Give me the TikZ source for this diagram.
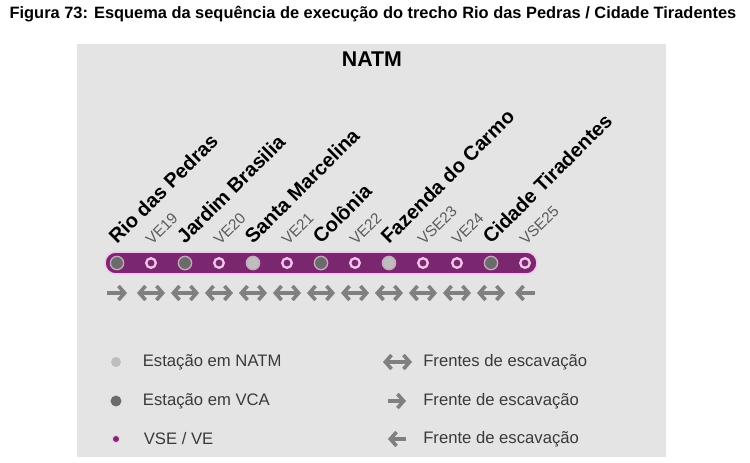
\documentclass[tikz,border=0pt]{standalone}
\usepackage{fontspec}
\setmainfont{Liberation Sans}
\usetikzlibrary{arrows.meta,
	positioning}
\definecolor{panelgray}{HTML}{E4E4E4}
\definecolor{linepurple}{HTML}{7A276F}
\definecolor{ringpink}{HTML}{F4C8EE}
\definecolor{stationrim}{HTML}{C4A6C0}
\definecolor{vcagray}{HTML}{6B6B6B}
\definecolor{natmgray}{HTML}{BEBEBE}
\definecolor{arrowgray}{HTML}{808080}
\definecolor{ventgray}{HTML}{5C5C5C}
\definecolor{legendgray}{HTML}{3A3A3A}
\tikzset{
	station/.style={circle, inner sep=0pt, minimum size=10pt, fill=#1, draw=stationrim, line width=1pt},
	vent/.style={circle, inner sep=0pt, minimum size=7.2pt, fill=linepurple, draw=ringpink, line width=1.7pt},
	stationname/.style={rotate=45, anchor=base west, inner sep=0pt, font=\bfseries\fontsize{15}{15}\selectfont},
	ventname/.style={rotate=45, anchor=base west, inner sep=0pt, text=ventgray, font=\fontsize{11.5}{11.5}\selectfont},
	escav/.style={draw=arrowgray, line width=2.7pt},
	legdot/.style={circle, inner sep=0pt, minimum size=#1},
	legtext/.style={inner sep=0pt, anchor=west, text=legendgray, font=\fontsize{12.5}{12.5}\selectfont}
}

\begin{document}
\begin{tikzpicture}[x=0.75pt, y=-0.75pt, >={Straight Barb[length=4.6pt,width=10.5pt]}]
				\useasboundingbox (0,0) rectangle (750,462);
				\node[font=\bfseries\fontsize{12.3}{14}\selectfont] (title) at (373,14) {Figura 73: Esquema da sequência de execução do trecho Rio das Pedras / Cidade Tiradentes};
				\fill[panelgray] (77,44) rectangle (666,457);
				\node[font=\bfseries\fontsize{16}{16}\selectfont] (natm) at (372,59) {NATM};
				\draw[fill=linepurple, draw=ringpink, line width=1.2pt, rounded corners=8pt] (105,252) rectangle (537,274);
				\node[station=vcagray] (rio) at (117,263) {};
				\node[vent] (ve19) at (151,263) {};
				\node[station=vcagray] (jardim) at (185,263) {};
				\node[vent] (ve20) at (219,263) {};
				\node[station=natmgray] (santa) at (253,263) {};
				\node[vent] (ve21) at (287,263) {};
				\node[station=vcagray] (colonia) at (321,263) {};
				\node[vent] (ve22) at (355,263) {};
				\node[station=natmgray] (fazenda) at (389,263) {};
				\node[vent] (vse23) at (423,263) {};
				\node[vent] (ve24) at (457,263) {};
				\node[station=vcagray] (cidade) at (491,263) {};
				\node[vent] (vse25) at (525,263) {};
				\node[stationname] (rio name) at (117,245) {Rio das Pedras};
				\node[ventname] (ve19 name) at (152,246) {VE19};
				\node[stationname] (jardim name) at (185,245) {Jardim Brasilia};
				\node[ventname] (ve20 name) at (220,246) {VE20};
				\node[stationname] (santa name) at (253,245) {Santa Marcelina};
				\node[ventname] (ve21 name) at (288,246) {VE21};
				\node[stationname] (colonia name) at (321,245) {Colônia};
				\node[ventname] (ve22 name) at (356,246) {VE22};
				\node[stationname] (fazenda name) at (389,245) {Fazenda do Carmo};
				\node[ventname] (vse23 name) at (424,246) {VSE23};
				\node[ventname] (ve24 name) at (458,246) {VE24};
				\node[stationname] (cidade name) at (491,245) {Cidade Tiradentes};
				\node[ventname] (vse25 name) at (526,246) {VSE25};
				\draw[escav, ->] (107,293) -- (127,293);
				\draw[escav, <->] (137,293) -- (165,293);
				\draw[escav, <->] (171,293) -- (199,293);
				\draw[escav, <->] (205,293) -- (233,293);
				\draw[escav, <->] (239,293) -- (267,293);
				\draw[escav, <->] (273,293) -- (301,293);
				\draw[escav, <->] (307,293) -- (335,293);
				\draw[escav, <->] (341,293) -- (369,293);
				\draw[escav, <->] (375,293) -- (403,293);
				\draw[escav, <->] (409,293) -- (437,293);
				\draw[escav, <->] (443,293) -- (471,293);
				\draw[escav, <->] (477,293) -- (505,293);
				\draw[escav, <-] (515,293) -- (535,293);
				\node[legdot=7.5pt, fill=natmgray] (leg natm) at (116,362) {};
				\node[legtext, right=16pt of leg natm] (leg natm text) {Estação em NATM};
				\node[legdot=8.2pt, fill=vcagray] (leg vca) at (116,401) {};
				\node[legtext, right=15.7pt of leg vca] (leg vca text) {Estação em VCA};
				\node[legdot=5.5pt, fill=linepurple, draw=ringpink, line width=0.8pt] (leg vent) at (116,439) {};
				\node[legtext, right=17.5pt of leg vent] (leg vent text) {VSE / VE};
				\draw[escav, <->] (383,362) -- (412,362);
				\node[legtext] (leg both text) at (423,362) {Frentes de escavação};
				\draw[escav, ->] (388,401) -- (406,401);
				\node[legtext] (leg right text) at (423,401) {Frente de escavação};
				\draw[escav, <-] (388,439) -- (406,439);
				\node[legtext] (leg left text) at (423,439) {Frente de escavação};
			\end{tikzpicture}
\end{document}
